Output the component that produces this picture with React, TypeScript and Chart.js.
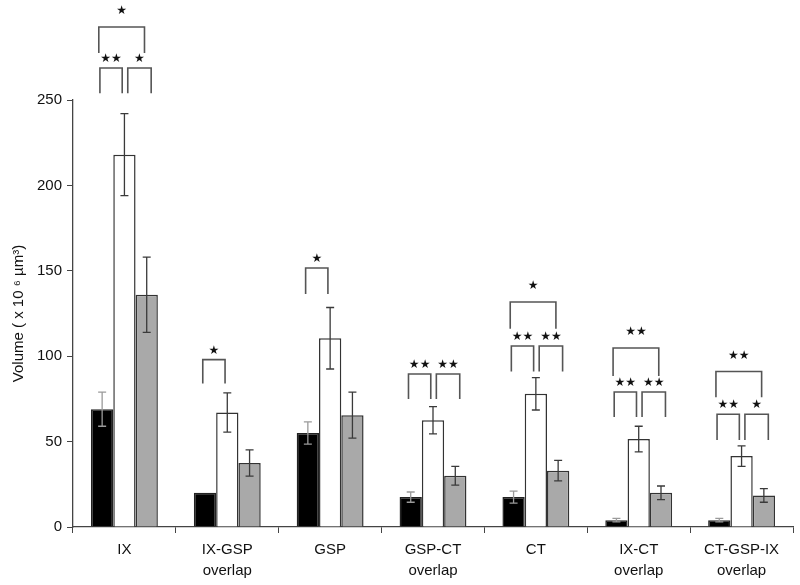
import React, { useEffect, useRef } from "react";
import { Chart, registerables } from "chart.js";

Chart.register(...registerables);

const categories: string[][] = [
  ["IX"],
  ["IX-GSP", "overlap"],
  ["GSP"],
  ["GSP-CT", "overlap"],
  ["CT"],
  ["IX-CT", "overlap"],
  ["CT-GSP-IX", "overlap"],
];

const blackValues = [69, 20, 55, 17.5, 17.5, 4, 4];
const blackErrors = [10, 0, 6.5, 3, 3.5, 1, 1];
const whiteValues = [218, 67, 110.5, 62.5, 78, 51.5, 41.5];
const whiteErrors = [24, 11.5, 18, 8, 9.5, 7.5, 6];
const grayValues = [136, 37.5, 65.5, 30, 33, 20, 18.5];
const grayErrors = [22, 7.7, 13.5, 5.5, 6, 4, 4];

const yTicks = [0, 50, 100, 150, 200, 250];

// significance brackets
const bracketCategory = [0, 0, 0, 1, 2, 3, 3, 4, 4, 4, 5, 5, 5, 6, 6, 6];
const bracketFrom = [0, 1, 0, 0, 0, 0, 1, 0, 1, 0, 0, 1, 0, 0, 1, 0];
const bracketTo = [1, 2, 2, 1, 1, 1, 2, 1, 2, 2, 1, 2, 2, 1, 2, 2];
const bracketTop = [268.7, 268.7, 292.7, 98, 151.6, 89.6, 89.6, 106, 106, 131.7, 79, 79, 104.8, 66, 66, 91];
const bracketLeg = [254, 254, 277.5, 84, 136.4, 75, 75, 91, 91, 116, 64.4, 64.4, 88.4, 51, 51, 76];
const bracketLabel = ["**", "*", "*", "*", "*", "**", "**", "**", "**", "*", "**", "**", "**", "**", "*", "**"];

const errorsByDataset = [blackErrors, whiteErrors, grayErrors];

const FONT = "'Liberation Sans', Arial, sans-serif";

const overlayPlugin = {
  id: "overlay",
  afterDatasetsDraw(chart: any) {
    const ctx = chart.ctx;
    const y = chart.scales.y;
    ctx.save();
    // error bars
    for (let d = 0; d < 3; d++) {
      const meta = chart.getDatasetMeta(d);
      const vals = chart.data.datasets[d].data as number[];
      meta.data.forEach((bar: any, i: number) => {
        const err = errorsByDataset[d][i];
        if (!err) return;
        const x = bar.x;
        const yt = y.getPixelForValue(vals[i] + err);
        const yb = y.getPixelForValue(vals[i] - err);
        ctx.strokeStyle = d === 0 ? "#9a9a9a" : "#3a3a3a";
        ctx.lineWidth = 1.3;
        ctx.beginPath();
        ctx.moveTo(x, yt);
        ctx.lineTo(x, yb);
        ctx.moveTo(x - 4, yt);
        ctx.lineTo(x + 4, yt);
        ctx.moveTo(x - 4, yb);
        ctx.lineTo(x + 4, yb);
        ctx.stroke();
      });
    }
    // brackets
    const metas = [0, 1, 2].map((d) => chart.getDatasetMeta(d));
    for (let k = 0; k < bracketCategory.length; k++) {
      const c = bracketCategory[k];
      const a = bracketFrom[k];
      const b = bracketTo[k];
      const barA = metas[a].data[c];
      const barB = metas[b].data[c];
      const w = barA.width;
      const span = b - a === 2;
      let x1: number, x2: number;
      if (span) {
        x1 = barA.x - 0.15 * w;
        x2 = barB.x - 0.1 * w;
      } else if (a === 0) {
        x1 = barA.x - 0.1 * w;
        x2 = barB.x - 0.1 * w;
      } else {
        x1 = barA.x + 0.15 * w;
        x2 = barB.x + 0.2 * w;
      }
      const yt = y.getPixelForValue(bracketTop[k]);
      const yl = y.getPixelForValue(bracketLeg[k]);
      ctx.strokeStyle = "#555";
      ctx.lineWidth = 1.6;
      ctx.beginPath();
      ctx.moveTo(x1, yl);
      ctx.lineTo(x1, yt);
      ctx.lineTo(x2, yt);
      ctx.lineTo(x2, yl);
      ctx.stroke();
      ctx.fillStyle = "#111";
      ctx.font = "12px 'DejaVu Sans'";
      ctx.textAlign = "center";
      ctx.textBaseline = "middle";
      const label = bracketLabel[k] === "**" ? "★★" : "★";
      ctx.fillText(label, (x1 + x2) / 2, yt - (span ? 16 : 9));
    }
    ctx.restore();
  },
};

export default function App() {
  const ref = useRef<HTMLCanvasElement>(null);
  useEffect(() => {
    if (!ref.current) return;
    const chart = new Chart(ref.current, {
      type: "bar",
      data: {
        labels: categories,
        datasets: [
          { label: "black", data: blackValues, backgroundColor: "#000", borderColor: "#222", borderWidth: 1.5 },
          { label: "white", data: whiteValues, backgroundColor: "#fff", borderColor: "#333", borderWidth: 1.5 },
          { label: "gray", data: grayValues, backgroundColor: "#a9a9a9", borderColor: "#333", borderWidth: 1.5 },
        ],
      },
      options: {
        animation: false,
        responsive: false,
        maintainAspectRatio: false,
        layout: { padding: { top: 100, right: 7, left: 0, bottom: 0 } },
        datasets: { bar: { categoryPercentage: 0.65, barPercentage: 1.0 } },
        plugins: { legend: { display: false }, tooltip: { enabled: false } },
        scales: {
          x: {
            grid: { display: true, drawOnChartArea: false, drawTicks: true, tickLength: 6, color: "#444", offset: true },
            border: { display: true, color: "#444", width: 1.3 },
            ticks: {
              color: "#111",
              font: { family: FONT, size: 15, lineHeight: 1.4 },
              padding: 6,
              maxRotation: 0,
              autoSkip: false,
            },
            afterFit(scale: any) {
              scale.height = 58;
            },
          },
          y: {
            min: 0,
            max: 250,
            afterBuildTicks(scale: any) {
              scale.ticks = yTicks.map((v) => ({ value: v }));
            },
            grid: { display: true, drawOnChartArea: false, drawTicks: true, tickLength: 6, color: "#444" },
            border: { display: true, color: "#444", width: 1.3 },
            ticks: {
              color: "#111",
              font: { family: FONT, size: 15 },
              padding: 5,
            },
            title: {
              display: true,
              text: "Volume ( x 10 ⁶ µm³)",
              color: "#111",
              font: { family: FONT, size: 15 },
              padding: { top: 10, bottom: 0 },
            },
            afterFit(scale: any) {
              scale.width = 73;
            },
          },
        },
      },
      plugins: [overlayPlugin],
    });
    return () => chart.destroy();
  }, []);
  return (
    <div style={{ position: "fixed", left: 0, top: 0, width: 800, height: 585, background: "#fff" }}>
      <canvas ref={ref} width={800} height={585} style={{ width: 800, height: 585 }} />
    </div>
  );
}
